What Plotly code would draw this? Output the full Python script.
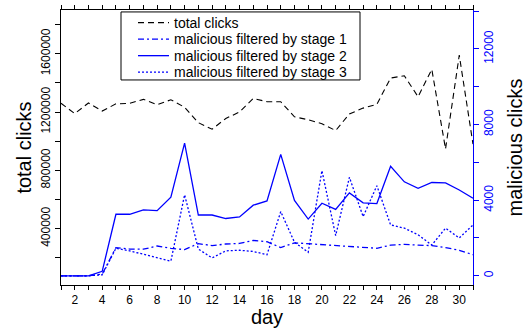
import plotly.graph_objects as go

days = list(range(1, 32))

total_clicks = [1260000, 1189000, 1262000, 1207000, 1256000, 1260000, 1287000, 1251000,
                1284000, 1233000, 1127000, 1082000, 1156000, 1200000, 1293000, 1271000,
                1271000, 1167000, 1147000, 1120000, 1073000, 1187000, 1227000, 1253000,
                1433000, 1449000, 1305000, 1493000, 947000, 1590000, 980000]

stage1 = [0, 0, 0, 85, 1490, 1415, 1405, 1575, 1455, 1385, 1700, 1595, 1680, 1710, 1870, 1800,
          1490, 1745, 1700, 1660, 1620, 1575, 1510, 1455, 1620, 1660, 1620, 1595, 1490, 1350, 1115]

stage2 = [0, 0, 0, 236, 3255, 3255, 3490, 3445, 4160, 7020, 3215, 3215, 3030, 3115, 3735, 3960,
          6425, 3990, 3000, 3840, 3510, 4385, 3860, 3820, 5790, 4970, 4625, 4935, 4915, 4540, 4105]

stage3 = [0, 0, 0, 52, 1455, 1320, 1145, 945, 775, 4285, 1415, 945, 1320, 1350, 1285, 1115,
          3395, 1775, 1245, 5565, 2125, 5210, 3130, 4765, 2690, 2520, 2170, 1625, 2520, 2000, 2690]

series_names = ["total clicks", "malicious filtered by stage 1",
                "malicious filtered by stage 2", "malicious filtered by stage 3"]

left_ticks = [400000, 800000, 1200000, 1600000]
right_ticks = [0, 4000, 8000, 12000]
x_ticks = list(range(2, 31, 2))

FONT = "Liberation Sans, Arial, sans-serif"
BLUE = "#0000FF"

styles = [
    dict(color="black", width=1.1, dash="6px,4px"),
    dict(color=BLUE, width=1.3, dash="6px,3px,2px,3px"),
    dict(color=BLUE, width=1.3),
    dict(color=BLUE, width=1.3, dash="2px,2px"),
]

fig = go.Figure()
for name, ys, st, ax in zip(series_names, [total_clicks, stage1, stage2, stage3], styles,
                            ["y", "y2", "y2", "y2"]):
    fig.add_trace(go.Scatter(x=days, y=ys, mode="lines", name=name, yaxis=ax,
                             line=st, showlegend=False))

# plot-area geometry (pixels) used to place the hand-built legend box
PL, PR, PT, PB = 61, 473, 5, 288


def fx(px):
    return (px - PL) / (PR - PL)


def fy(py):
    return (PB - py) / (PB - PT)


shapes = [dict(type="rect", xref="paper", yref="paper",
               x0=fx(121), x1=fx(360), y0=fy(77), y1=fy(7),
               line=dict(color="black", width=1), fillcolor="white", layer="above")]
annotations = []
row_y = [18, 35, 52, 69]
for name, st, ry in zip(series_names, styles, row_y):
    shapes.append(dict(type="line", xref="paper", yref="paper",
                       x0=fx(138), x1=fx(169), y0=fy(ry), y1=fy(ry),
                       line=dict(color=st["color"], width=st["width"], dash=st.get("dash", "solid"))))
    annotations.append(dict(text=name, xref="paper", yref="paper", x=fx(172), y=fy(ry),
                            xanchor="left", yanchor="middle", showarrow=False,
                            font=dict(family=FONT, size=14, color="black")))

fig.update_layout(
    width=532, height=328,
    margin=dict(l=PL, r=532 - PR, t=PT, b=328 - PB),
    paper_bgcolor="white", plot_bgcolor="white",
    font=dict(family=FONT, size=12, color="black"),
    showlegend=False,
    shapes=shapes,
    annotations=annotations,
    xaxis=dict(range=[1, 31], tickmode="array", tickvals=x_ticks,
               ticks="outside", ticklen=4, tickcolor="black",
               showline=True, linecolor="black", linewidth=1, mirror="ticks",
               showgrid=False, zeroline=False,
               minor=dict(dtick=1, tick0=1, ticks="outside", ticklen=4, tickcolor="black", showgrid=False),
               tickfont=dict(size=12),
               title=dict(text="day", font=dict(size=20), standoff=2)),
    yaxis=dict(range=[13333, 1900000], tickmode="array", tickvals=left_ticks,
               ticktext=[str(v) for v in left_ticks], tickangle=-90,
               ticks="outside", ticklen=5, tickcolor="black",
               showline=True, linecolor="black", linewidth=1,
               showgrid=False, zeroline=False,
               minor=dict(dtick=200000, tick0=0, ticks="outside", ticklen=5, tickcolor="black", showgrid=False),
               tickfont=dict(size=12),
               title=dict(text="total clicks", font=dict(size=20), standoff=2)),
    yaxis2=dict(range=[-488, 14062], overlaying="y", side="right", anchor="x",
                tickmode="array", tickvals=right_ticks, ticktext=[str(v) for v in right_ticks],
                tickangle=-90, ticks="outside", ticklen=5, tickcolor=BLUE,
                showline=True, linecolor=BLUE, linewidth=1,
                showgrid=False, zeroline=False,
                minor=dict(dtick=2000, tick0=0, ticks="outside", ticklen=5, tickcolor=BLUE, showgrid=False),
                tickfont=dict(size=12, color=BLUE),
                title=dict(text="malicious clicks", font=dict(size=20, color="black"), standoff=12)),
)

fig.write_html("out.html", config={"displayModeBar": False},
               post_script="document.body.style.margin='0';document.body.style.padding='0';")
